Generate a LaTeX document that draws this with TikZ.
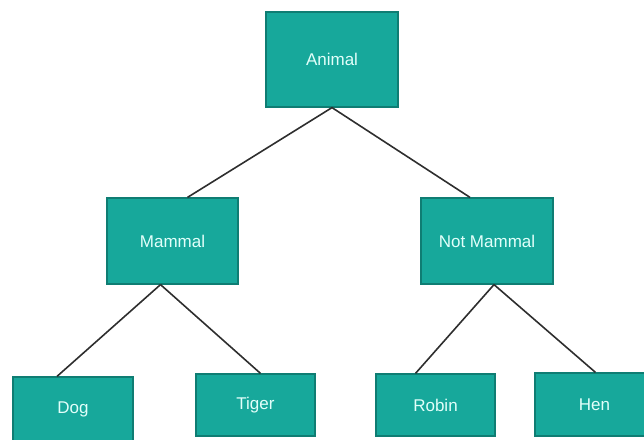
\documentclass[tikz,border=0pt]{standalone}
\usepackage{fontspec}
\setmainfont{Liberation Sans}
\definecolor{boxfill}{HTML}{17A89B}
\definecolor{boxline}{HTML}{0F7D73}
\definecolor{boxtext}{HTML}{E2FFFA}
\definecolor{edge}{HTML}{2E2E2E}
\begin{document}
\begin{tikzpicture}[x=1pt,y=-1pt,
  treebox/.style={draw=boxline,line width=1.2pt,fill=boxfill,text=boxtext,
    font=\fontsize{17}{19}\selectfont,inner sep=0pt},
  branch/.style={draw=edge,line width=1.6pt}]
\useasboundingbox (0,0) rectangle (644,439);
% boxes, positioned by centre in pixel units
\node[treebox,minimum width=132pt,minimum height=95pt] (animal) at (332,59.5) {Animal};
\node[treebox,minimum width=131pt,minimum height=86pt] (mammal) at (172.5,241) {Mammal};
\node[treebox,minimum width=132pt,minimum height=86pt] (notmammal) at (487,241) {Not Mammal};
\node[treebox,minimum width=120pt,minimum height=64pt] (dog) at (73,409) {Dog};
\node[treebox,minimum width=119pt,minimum height=62pt] (tiger) at (255.5,405) {Tiger};
\node[treebox,minimum width=119pt,minimum height=62pt] (robin) at (435.5,405) {Robin};
\node[treebox,minimum width=119pt,minimum height=63pt] (hen) at (594.5,404.5) {Hen};
% connectors
\draw[branch] (animal.south) -- ([xshift=15pt]mammal.north);
\draw[branch] (animal.south) -- ([xshift=-17pt]notmammal.north);
\draw[branch] ([xshift=-12pt]mammal.south) -- ([xshift=-16pt]dog.north);
\draw[branch] ([xshift=-12pt]mammal.south) -- ([xshift=5pt]tiger.north);
\draw[branch] ([xshift=7pt]notmammal.south) -- ([xshift=-20pt]robin.north);
\draw[branch] ([xshift=7pt]notmammal.south) -- ([xshift=1pt]hen.north);
\end{tikzpicture}
\end{document}
